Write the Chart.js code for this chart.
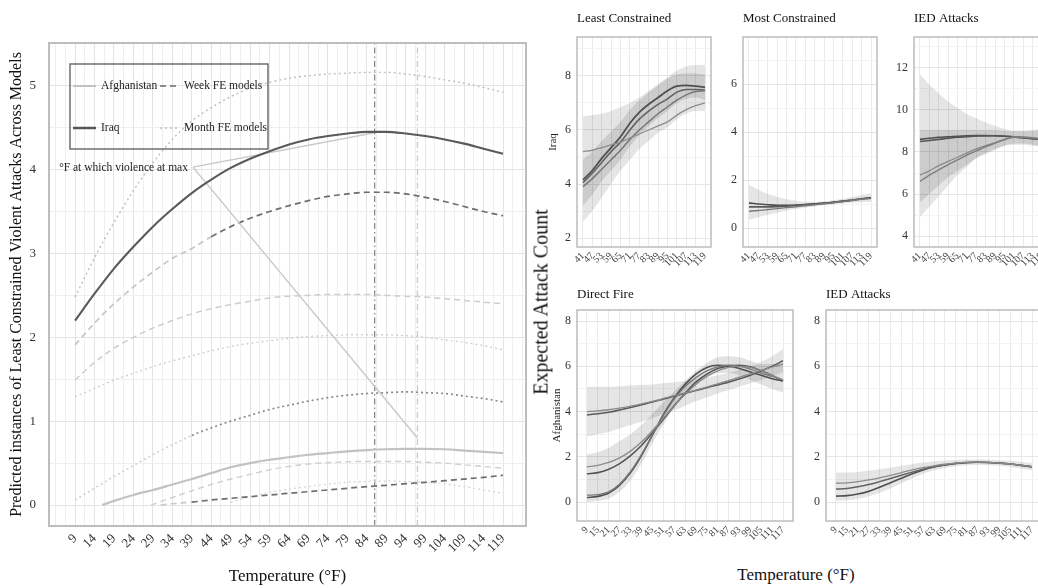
<!DOCTYPE html>
<html><head><meta charset="utf-8">
<script src="https://cdn.jsdelivr.net/npm/chart.js@4.4.1/dist/chart.umd.min.js"></script>
<style>
html,body{margin:0;padding:0;background:#fff;overflow:hidden;width:1038px;height:588px;}
canvas{position:absolute;}
.lbl{position:absolute;font-family:"Liberation Serif","DejaVu Serif",serif;color:#111;white-space:nowrap;}
</style></head><body>
<canvas id="main" width="540" height="588" style="left:0;top:0"></canvas>
<canvas id="p1" width="172" height="272" style="left:546px;top:8px"></canvas>
<canvas id="p2" width="172" height="272" style="left:716px;top:8px"></canvas>
<canvas id="p3" width="172" height="272" style="left:886px;top:8px"></canvas>
<canvas id="p4" width="255" height="270" style="left:546px;top:285px"></canvas>
<canvas id="p5" width="255" height="270" style="left:798px;top:285px"></canvas>
<div class="lbl" style="left:541px;top:302px;font-size:20px;transform:translate(-50%,-50%) rotate(-90deg);">Expected Attack Count</div>
<div class="lbl" style="left:796px;top:575px;font-size:17px;transform:translate(-50%,-50%);">Temperature (°F)</div>
<script>
// ---------------- DATA: main chart ----------------
const TEMP_TICKS = [9,14,19,24,29,34,39,44,49,54,59,64,69,74,79,84,89,94,99,104,109,114,119];
const Y_TICKS_MAIN = [0,1,2,3,4,5];
const PEAK_TEMPS = [86, 97]; // Iraq max, Afghanistan max
const iraqModel   = [2.2,2.52,2.82,3.08,3.32,3.53,3.72,3.88,4.02,4.13,4.22,4.3,4.36,4.4,4.43,4.45,4.45,4.43,4.4,4.36,4.31,4.25,4.19];
const iraqMonthFE = [2.48,2.95,3.37,3.75,4.08,4.36,4.58,4.74,4.87,4.97,5.04,5.09,5.12,5.14,5.15,5.16,5.16,5.14,5.11,5.07,5.03,4.98,4.92];
const iraqWeekFE  = [1.91,2.17,2.4,2.6,2.78,2.94,3.06,3.2,3.32,3.42,3.5,3.57,3.63,3.68,3.71,3.73,3.73,3.71,3.67,3.62,3.56,3.5,3.45];
const weekFE2     = [1.49,1.7,1.87,2.0,2.11,2.2,2.28,2.34,2.39,2.43,2.47,2.49,2.5,2.51,2.51,2.51,2.5,2.49,2.48,2.46,2.44,2.42,2.4];
const monthFE2    = [1.29,1.39,1.49,1.57,1.65,1.72,1.78,1.84,1.89,1.93,1.96,1.99,2.01,2.02,2.03,2.03,2.03,2.02,2.0,1.97,1.94,1.9,1.85];
const afgMonthFE  = [0.06,0.2,0.34,0.47,0.6,0.72,0.83,0.92,1.0,1.07,1.14,1.19,1.24,1.28,1.31,1.33,1.34,1.35,1.34,1.33,1.3,1.27,1.23];
const afgModel    = [[16,0],[19,0.05],[24,0.12],[29,0.18],[34,0.245],[39,0.31],[44,0.38],[49,0.45],[54,0.5],[59,0.54],[64,0.57],[69,0.6],[74,0.62],[79,0.64],[84,0.655],[89,0.665],[94,0.67],[99,0.67],[104,0.665],[109,0.65],[114,0.635],[119,0.62]];
const afgWeekFE2  = [[28.5,0],[34,0.09],[39,0.17],[44,0.245],[49,0.31],[54,0.365],[59,0.42],[64,0.46],[69,0.49],[74,0.505],[79,0.515],[84,0.52],[89,0.52],[94,0.52],[99,0.51],[104,0.5],[109,0.48],[114,0.46],[119,0.44]];
const afgWeekFE   = [[31,0],[34,0.015],[39,0.035],[44,0.06],[49,0.08],[54,0.1],[59,0.12],[64,0.14],[69,0.16],[74,0.18],[79,0.2],[84,0.22],[89,0.235],[94,0.255],[99,0.27],[104,0.29],[109,0.31],[114,0.33],[119,0.355]];
const afgMonthFE2 = [[49,0.03],[54,0.1],[59,0.15],[64,0.19],[69,0.22],[74,0.25],[79,0.27],[84,0.28],[89,0.285],[94,0.28],[99,0.27],[104,0.25],[109,0.22],[114,0.18],[119,0.14]];
const ANNOT_TEXT = '°F at which violence at max';
const ANNOT_FROM = [39.3, 4.03];
const ANNOT_TO = [[86, 4.44], [97, 0.8]];

// ---------------- DATA: right panels ----------------
const T_IRQ = [41,47,53,59,65,71,77,83,89,95,101,107,113,119];
const T_AFG = [9,15,21,27,33,39,45,51,57,63,69,75,81,87,93,99,105,111,117];
// Least Constrained (Iraq)
const lc1 = [5.2,5.25,5.35,5.45,5.55,5.7,5.85,6.0,6.15,6.3,6.55,6.75,6.9,7.0];
const lc2 = [4.15,4.5,4.95,5.35,5.75,6.25,6.65,6.95,7.2,7.45,7.62,7.65,7.62,7.58];
const lc3 = [4.05,4.4,4.8,5.2,5.55,6.0,6.4,6.7,6.95,7.15,7.4,7.5,7.5,7.48];
const lc4 = [3.9,4.2,4.55,4.9,5.25,5.65,6.0,6.3,6.6,6.85,7.1,7.3,7.42,7.45];
const lcHi1 = [6.5,6.55,6.6,6.7,6.85,7.0,7.2,7.45,7.7,7.95,8.2,8.35,8.4,8.4];
const lcLo1 = [2.6,3.0,3.5,4.0,4.5,4.9,5.3,5.6,5.9,6.1,6.4,6.6,6.7,6.7];
const lcHi2 = [4.9,5.2,5.6,5.95,6.3,6.75,7.1,7.4,7.65,7.9,8.05,8.1,8.1,8.05];
const lcLo2 = [3.2,3.6,4.1,4.5,4.9,5.4,5.8,6.15,6.45,6.7,7.0,7.15,7.2,7.1];
// Most Constrained (Iraq)
const mc1 = [1.05,1.0,0.97,0.95,0.95,0.96,0.98,1.01,1.04,1.08,1.12,1.17,1.22,1.27];
const mc2 = [0.88,0.88,0.88,0.89,0.91,0.94,0.97,1.0,1.03,1.07,1.11,1.16,1.21,1.25];
const mc3 = [0.7,0.73,0.77,0.81,0.85,0.89,0.93,0.97,1.01,1.05,1.1,1.15,1.2,1.24];
const mcHi = [1.8,1.6,1.43,1.3,1.2,1.14,1.1,1.1,1.12,1.16,1.22,1.3,1.38,1.45];
const mcLo = [0.35,0.45,0.55,0.64,0.72,0.79,0.85,0.9,0.95,0.99,1.02,1.05,1.07,1.08];
// IED Attacks (Iraq)
const ii1 = [8.6,8.65,8.7,8.72,8.75,8.77,8.78,8.78,8.77,8.75,8.72,8.68,8.63,8.6];
const ii2 = [8.5,8.55,8.6,8.65,8.7,8.73,8.76,8.77,8.77,8.75,8.72,8.68,8.63,8.6];
const ii3 = [6.9,7.1,7.35,7.55,7.75,7.95,8.15,8.3,8.45,8.6,8.72,8.72,8.68,8.62];
const ii4 = [6.6,6.9,7.15,7.4,7.62,7.85,8.05,8.25,8.42,8.58,8.7,8.7,8.66,8.6];
const iiHi1 = [11.7,11.2,10.8,10.4,10.1,9.8,9.6,9.4,9.25,9.1,9.0,9.0,9.05,9.1];
const iiLo1 = [4.9,5.4,5.9,6.4,6.9,7.3,7.7,7.95,8.15,8.3,8.35,8.35,8.3,8.25];
const iiHi2 = [9.05,9.05,9.05,9.05,9.05,9.05,9.05,9.05,9.05,9.0,9.0,9.0,9.0,9.05];
const iiLo2 = [5.6,6.0,6.4,6.8,7.1,7.4,7.7,7.9,8.1,8.3,8.4,8.4,8.35,8.3];
// Direct Fire (Afghanistan)
const df1 = [3.85,3.9,3.97,4.07,4.18,4.3,4.42,4.55,4.68,4.8,4.93,5.05,5.18,5.3,5.45,5.6,5.8,6.0,6.25];
const df2 = [4.0,4.03,4.08,4.15,4.24,4.34,4.45,4.57,4.7,4.82,4.95,5.08,5.22,5.37,5.52,5.67,5.82,5.97,6.1];
const ds1 = [1.55,1.62,1.75,1.95,2.25,2.65,3.15,3.7,4.25,4.75,5.2,5.55,5.8,5.95,6.0,5.95,5.8,5.6,5.4];
const ds2 = [1.25,1.3,1.45,1.7,2.05,2.5,3.05,3.65,4.25,4.8,5.3,5.65,5.9,6.02,6.05,5.98,5.8,5.6,5.35];
const ds3 = [0.2,0.25,0.4,0.75,1.3,2.05,2.95,3.85,4.6,5.2,5.65,5.95,6.05,6.02,5.9,5.75,5.6,5.45,5.35];
const ds4 = [0.3,0.33,0.45,0.8,1.35,2.1,2.95,3.8,4.55,5.1,5.5,5.8,5.98,6.05,6.0,5.88,5.7,5.55,5.4];
const dfHi1 = [5.1,5.1,5.1,5.12,5.15,5.18,5.2,5.25,5.3,5.35,5.42,5.5,5.6,5.72,5.85,6.0,6.2,6.45,6.75];
const dfLo1 = [2.9,3.0,3.1,3.25,3.4,3.55,3.7,3.88,4.05,4.25,4.45,4.62,4.8,4.95,5.1,5.25,5.4,5.55,5.75];
const dfHi2 = [2.1,2.2,2.4,2.7,3.0,3.4,3.9,4.4,4.9,5.35,5.8,6.15,6.4,6.45,6.4,6.25,6.1,6.1,6.2];
const dfLo2 = [0.0,0.05,0.15,0.45,0.95,1.7,2.6,3.4,4.2,4.75,5.2,5.5,5.7,5.7,5.6,5.4,5.2,5.0,4.85];
// IED Attacks (Afghanistan)
const ia1 = [0.83,0.85,0.9,0.98,1.07,1.18,1.3,1.42,1.52,1.6,1.67,1.72,1.75,1.76,1.75,1.72,1.68,1.62,1.56];
const ia2 = [0.57,0.6,0.67,0.77,0.9,1.04,1.18,1.32,1.45,1.56,1.64,1.7,1.74,1.76,1.75,1.72,1.68,1.62,1.56];
const ia3 = [0.26,0.28,0.35,0.47,0.65,0.85,1.05,1.25,1.42,1.55,1.64,1.71,1.75,1.76,1.75,1.72,1.68,1.62,1.55];
const iaHi = [1.3,1.3,1.33,1.38,1.45,1.52,1.6,1.68,1.75,1.8,1.84,1.86,1.88,1.88,1.87,1.85,1.82,1.78,1.72];
const iaLo = [0.05,0.08,0.13,0.25,0.4,0.6,0.82,1.05,1.25,1.4,1.5,1.58,1.63,1.64,1.63,1.6,1.55,1.48,1.4];

// ---------------- helpers ----------------
const SERIF = '"Liberation Serif", "DejaVu Serif", serif';
Chart.defaults.font.family = SERIF;
const grid = (temps, vals) => temps.map((t, i) => ({x: t, y: vals[i]}));
const pairs = p => p.map(([x, y]) => ({x, y}));
const twoTone = (cut, light, dark) => ({ borderColor: c => c.p0.parsed.x < cut ? light : dark });

const boxBorder = (color, width) => ({
  id: 'boxBorder',
  afterDatasetsDraw(chart) {
    const a = chart.chartArea, ctx = chart.ctx;
    ctx.save(); ctx.strokeStyle = color; ctx.lineWidth = width;
    ctx.strokeRect(a.left, a.top, a.right - a.left, a.bottom - a.top);
    ctx.restore();
  }
});

// ---------------- main chart ----------------
const majorX = new Set(TEMP_TICKS);
const xGridVals = [];
const stepX = TEMP_TICKS[1] - TEMP_TICKS[0];
xGridVals.push(TEMP_TICKS[0] - stepX, TEMP_TICKS[0] - stepX / 2);
TEMP_TICKS.forEach(t => { xGridVals.push(t, t + stepX / 2); });
xGridVals.push(TEMP_TICKS[TEMP_TICKS.length - 1] + stepX);
const yGridMain = [];
Y_TICKS_MAIN.forEach(v => { yGridMain.push(v); if (v < 5) yGridMain.push(v + 0.5); });
const majorYMain = new Set(Y_TICKS_MAIN);
const X_MIN = 2.3, X_MAX = 124.9, Y_MIN = -0.25, Y_MAX = 5.51;

const mainOverlay = {
  id: 'mainOverlay',
  afterDatasetsDraw(chart) {
    const {ctx, chartArea: a, scales: {x, y}} = chart;
    ctx.save();
    ctx.fillStyle = '#222';
    ctx.font = '11.5px ' + SERIF;
    ctx.textAlign = 'right'; ctx.textBaseline = 'middle';
    ctx.fillText(ANNOT_TEXT, x.getPixelForValue(ANNOT_FROM[0]) - 5, y.getPixelForValue(ANNOT_FROM[1]) + 1);
    // legend box
    const L = a.left + 21, T = a.top + 21, W = 198, H = 85;
    ctx.strokeStyle = '#6f6f6f'; ctx.lineWidth = 1.5;
    ctx.strokeRect(L, T, W, H);
    const r1 = T + 22, r2 = T + 64;
    const item = (x0, len, yy, color, dash, w, text) => {
      ctx.beginPath(); ctx.setLineDash(dash); ctx.strokeStyle = color; ctx.lineWidth = w;
      ctx.moveTo(x0, yy); ctx.lineTo(x0 + len, yy); ctx.stroke(); ctx.setLineDash([]);
      ctx.textAlign = 'left'; ctx.fillStyle = '#222';
      ctx.fillText(text, x0 + len + 5, yy);
    };
    item(L + 3, 23, r1, '#c2c2c2', [], 2, 'Afghanistan');
    item(L + 90, 19, r1, '#6a6a6a', [6, 4], 1.6, 'Week FE models');
    item(L + 3, 23, r2, '#555', [], 2.5, 'Iraq');
    item(L + 90, 19, r2, '#bdbdbd', [2, 3], 1.4, 'Month FE models');
    ctx.restore();
  }
};

const LIGHT = '#c6c6c6';
const mainDatasets = [
  {data: [{x: PEAK_TEMPS[0], y: Y_MIN}, {x: PEAK_TEMPS[0], y: Y_MAX}], borderColor: '#8a8a8a', borderWidth: 1.3, borderDash: [6, 3, 1.5, 3], order: 9, tension: 0},
  {data: [{x: PEAK_TEMPS[1], y: Y_MIN}, {x: PEAK_TEMPS[1], y: Y_MAX}], borderColor: '#c9c9c9', borderWidth: 1.3, borderDash: [6, 3, 1.5, 3], order: 9, tension: 0},
  {data: grid(TEMP_TICKS, iraqMonthFE), borderColor: '#bdbdbd', borderWidth: 1.4, borderDash: [2, 3], order: 5},
  {data: grid(TEMP_TICKS, weekFE2), borderColor: '#cdcdcd', borderWidth: 1.5, borderDash: [6, 4], order: 5},
  {data: grid(TEMP_TICKS, monthFE2), borderColor: '#cfcfcf', borderWidth: 1.4, borderDash: [2, 3], order: 5},
  {data: pairs(afgMonthFE2), borderColor: '#d6d6d6', borderWidth: 1.3, borderDash: [2, 3], order: 5},
  {data: pairs(afgWeekFE2), borderColor: '#cfcfcf', borderWidth: 1.4, borderDash: [6, 4], order: 5},
  {data: pairs(afgModel), borderColor: '#c2c2c2', borderWidth: 2.2, order: 4},
  {data: grid(TEMP_TICKS, afgMonthFE), borderColor: '#8a8a8a', segment: twoTone(39, '#d2d2d2', '#8a8a8a'), borderWidth: 1.7, borderDash: [2, 3], order: 3},
  {data: pairs(afgWeekFE), borderColor: '#6e6e6e', segment: twoTone(39, '#cccccc', '#6e6e6e'), borderWidth: 1.7, borderDash: [6, 4], order: 3},
  {data: grid(TEMP_TICKS, iraqWeekFE), borderColor: '#6e6e6e', segment: twoTone(41, LIGHT, '#6e6e6e'), borderWidth: 1.7, borderDash: [6, 4], order: 3},
  {data: [{x: ANNOT_FROM[0], y: ANNOT_FROM[1]}, {x: ANNOT_TO[0][0], y: ANNOT_TO[0][1]}], borderColor: '#c8c8c8', borderWidth: 1.4, order: 2, tension: 0},
  {data: [{x: ANNOT_FROM[0], y: ANNOT_FROM[1]}, {x: ANNOT_TO[1][0], y: ANNOT_TO[1][1]}], borderColor: '#c8c8c8', borderWidth: 1.4, order: 2, tension: 0},
  {data: grid(TEMP_TICKS, iraqModel), borderColor: '#5a5a5a', borderWidth: 2.1, order: 1}
];
mainDatasets.forEach(d => { d.pointRadius = 0; d.fill = false; if (d.tension === undefined) d.cubicInterpolationMode = 'monotone'; });

new Chart(document.getElementById('main'), {
  type: 'line',
  data: {datasets: mainDatasets},
  options: {
    responsive: false, animation: false, devicePixelRatio: 1,
    layout: {padding: {left: 0, top: 43, right: 14, bottom: 0}},
    plugins: {legend: {display: false}, tooltip: {enabled: false}},
    scales: {
      x: {
        type: 'linear', min: X_MIN, max: X_MAX,
        afterBuildTicks: s => { s.ticks = xGridVals.filter(v => v >= X_MIN && v <= X_MAX).map(v => ({value: v})); },
        afterFit: s => { s.height = 62; },
        grid: {color: c => (c.tick && majorX.has(c.tick.value)) ? '#e4e4e4' : '#efefef', drawTicks: false},
        border: {display: false},
        ticks: {autoSkip: false, minRotation: 45, maxRotation: 45, padding: 5, color: '#333', font: {size: 13},
          callback: v => majorX.has(v) ? String(v) : ''},
        title: {display: true, text: 'Temperature (°F)', color: '#111', font: {size: 17}, padding: {top: 0, bottom: 1}}
      },
      y: {
        type: 'linear', min: Y_MIN, max: Y_MAX,
        afterBuildTicks: s => { s.ticks = yGridMain.map(v => ({value: v})); },
        afterFit: s => { s.width = 49; },
        grid: {color: c => (c.tick && majorYMain.has(c.tick.value)) ? '#e4e4e4' : '#efefef', drawTicks: false},
        border: {display: false},
        ticks: {padding: 13, color: '#333', font: {size: 13}, callback: v => majorYMain.has(v) ? String(v) : ''},
        title: {display: true, text: 'Predicted instances of Least Constrained Violent Attacks Across Models', color: '#111', font: {size: 16}, padding: {top: 7, bottom: 0}}
      }
    }
  },
  plugins: [mainOverlay, boxBorder('#bdbdbd', 2)]
});

// ---------------- right panels ----------------
const BAND_A = 'rgba(0,0,0,0.10)', BAND_B = 'rgba(0,0,0,0.11)';
function makePanel(id, cfg) {
  const datasets = [];
  cfg.bands.forEach(b => {
    datasets.push({data: grid(cfg.temps, b[0]), borderWidth: 0, backgroundColor: b[2], fill: '+1', order: 10});
    datasets.push({data: grid(cfg.temps, b[1]), borderWidth: 0, fill: false, order: 10});
  });
  cfg.lines.forEach(l => datasets.push({data: grid(cfg.temps, l[0]), borderColor: l[1], borderWidth: l[2] || 1.4, fill: false, order: 1}));
  datasets.forEach(d => { d.pointRadius = 0; d.cubicInterpolationMode = 'monotone'; });
  const majors = new Set(cfg.yMajor);
  const yVals = [...cfg.yMajor, ...cfg.yMinor].sort((a, b) => a - b);
  new Chart(document.getElementById(id), {
    type: 'line',
    data: {datasets},
    options: {
      responsive: false, animation: false, devicePixelRatio: 1,
      layout: {padding: {left: 0, top: 0, right: cfg.padR, bottom: 0}},
      plugins: {
        legend: {display: false}, tooltip: {enabled: false},
        title: {display: true, text: cfg.title, align: 'start', fullSize: false, color: '#111',
          font: {size: 13, weight: 'normal'}, padding: {top: cfg.tTop, bottom: cfg.tBot}}
      },
      scales: {
        x: {
          type: 'linear', min: cfg.xMin, max: cfg.xMax,
          afterBuildTicks: s => { s.ticks = cfg.temps.map(v => ({value: v})); },
          afterFit: s => { s.height = cfg.xH; },
          grid: {color: '#eaeaea', drawTicks: false},
          border: {display: false},
          ticks: {autoSkip: false, minRotation: 45, maxRotation: 45, padding: 3, color: '#444', font: {size: 10}}
        },
        y: {
          type: 'linear', min: cfg.yMin, max: cfg.yMax,
          afterBuildTicks: s => { s.ticks = yVals.map(v => ({value: v})); },
          afterFit: s => { s.width = cfg.yW; },
          grid: {color: c => (c.tick && majors.has(c.tick.value)) ? '#e6e6e6' : '#f3f3f3', drawTicks: false},
          border: {display: false},
          ticks: {padding: 6, color: '#333', font: {size: 12}, callback: v => majors.has(v) ? String(v) : ''},
          title: cfg.yTitle ? {display: true, text: cfg.yTitle, color: '#222', font: {size: 11}, padding: {top: cfg.yTitlePad, bottom: 0}} : {display: false}
        }
      }
    },
    plugins: [boxBorder('#bcbcbc', 1.5)]
  });
}

const IRQ_X = [37.2, 122.8], AFG_X = [3.5, 122.5];
makePanel('p1', {
  title: 'Least Constrained', yTitle: 'Iraq', yTitlePad: 1, temps: T_IRQ, xMin: IRQ_X[0], xMax: IRQ_X[1],
  yMin: 1.67, yMax: 9.44, yMajor: [2,4,6,8], yMinor: [3,5,7,9], yW: 31, padR: 7, xH: 33, tTop: 3, tBot: 10.4,
  bands: [[lcHi1, lcLo1, BAND_A], [lcHi2, lcLo2, BAND_B]],
  lines: [[lc1, '#8c8c8c', 1.3], [lc4, '#777', 1.5], [lc3, '#626262', 1.6], [lc2, '#4f4f4f', 1.8]]
});
makePanel('p2', {
  title: 'Most Constrained', temps: T_IRQ, xMin: IRQ_X[0], xMax: IRQ_X[1],
  yMin: -0.79, yMax: 7.96, yMajor: [0,2,4,6], yMinor: [1,3,5,7], yW: 27, padR: 11, xH: 33, tTop: 3, tBot: 10.4,
  bands: [[mcHi, mcLo, BAND_A]],
  lines: [[mc3, '#7a7a7a', 1.4], [mc2, '#5a5a5a', 1.6], [mc1, '#4f4f4f', 1.6]]
});
makePanel('p3', {
  title: 'IED Attacks', temps: T_IRQ, xMin: IRQ_X[0], xMax: IRQ_X[1],
  yMin: 3.48, yMax: 13.47, yMajor: [4,6,8,10,12], yMinor: [5,7,9,11,13], yW: 28, padR: 10, xH: 33, tTop: 3, tBot: 10.4,
  bands: [[iiHi1, iiLo1, BAND_A], [iiHi2, iiLo2, BAND_B]],
  lines: [[ii4, '#7d7d7d', 1.4], [ii3, '#8a8a8a', 1.3], [ii2, '#555', 1.6], [ii1, '#4f4f4f', 1.6]]
});
makePanel('p4', {
  title: 'Direct Fire', yTitle: 'Afghanistan', yTitlePad: 5, temps: T_AFG, xMin: AFG_X[0], xMax: AFG_X[1],
  yMin: -0.84, yMax: 8.49, yMajor: [0,2,4,6,8], yMinor: [1,3,5,7], yW: 31, padR: 8, xH: 34, tTop: 2, tBot: 7.4,
  bands: [[dfHi1, dfLo1, BAND_A], [dfHi2, dfLo2, BAND_B]],
  lines: [[df2, '#8a8a8a', 1.3], [df1, '#5a5a5a', 1.6], [ds1, '#8a8a8a', 1.3], [ds4, '#7a7a7a', 1.3], [ds2, '#555', 1.6], [ds3, '#4f4f4f', 1.6]]
});
makePanel('p5', {
  title: 'IED Attacks', temps: T_AFG, xMin: AFG_X[0], xMax: AFG_X[1],
  yMin: -0.84, yMax: 8.49, yMajor: [0,2,4,6,8], yMinor: [1,3,5,7], yW: 28, padR: 11, xH: 34, tTop: 2, tBot: 7.4,
  bands: [[iaHi, iaLo, BAND_A]],
  lines: [[ia1, '#8a8a8a', 1.3], [ia2, '#626262', 1.5], [ia3, '#4f4f4f', 1.6]]
});
</script>
</body></html>
